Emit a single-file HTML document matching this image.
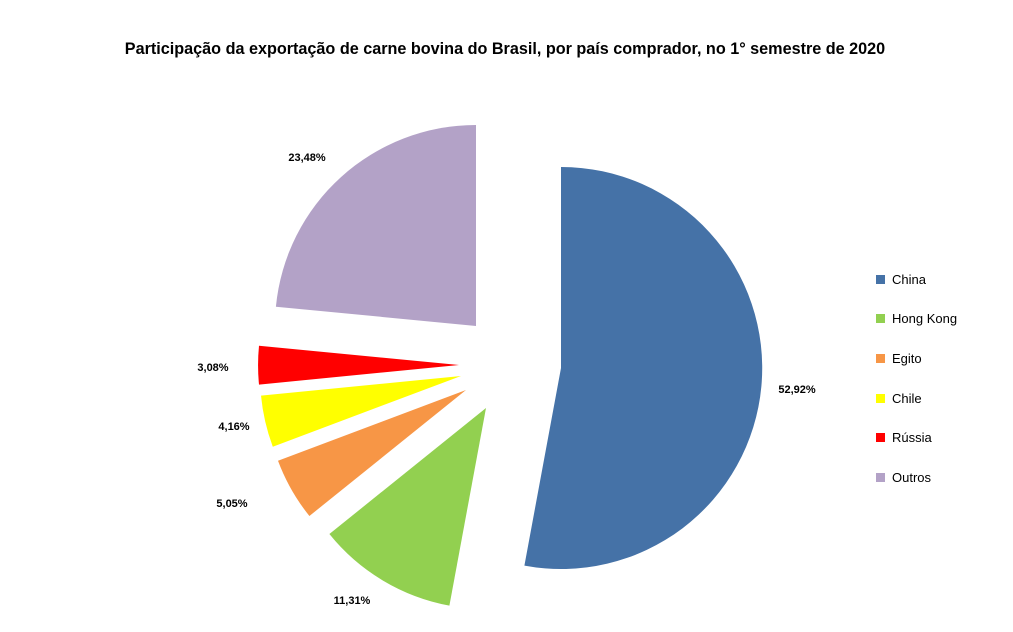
<!DOCTYPE html>
<html><head><meta charset="utf-8"><style>
html,body{margin:0;padding:0;background:#fff;}
svg{display:block;font-family:"Liberation Sans",Arial,sans-serif;}
</style></head><body>
<svg width="1013" height="632" viewBox="0 0 1013 632" xmlns="http://www.w3.org/2000/svg">
<rect width="1013" height="632" fill="#fff"/>
<text x="505" y="54" text-anchor="middle" font-size="16.2" font-weight="bold" fill="#000">Participação da exportação de carne bovina do Brasil, por país comprador, no 1° semestre de 2020</text>
<path d="M561,368 L561,167 A201,201 0 1,1 524.4,565.6 Z" fill="#4572A7"/>
<path d="M486,408 L449.4,605.6 A201,201 0 0,1 329.4,534 Z" fill="#92D050"/>
<path d="M466,390 L309.4,516 A201,201 0 0,1 278,460.7 Z" fill="#F79646"/>
<path d="M461,376 L272.8,446.7 A201,201 0 0,1 261,395.6 Z" fill="#FFFF00"/>
<path d="M459,365 L259,384.6 A201,201 0 0,1 259,345.7 Z" fill="#FF0000"/>
<path d="M476,326 L275.9,306.7 A201,201 0 0,1 476,125 Z" fill="#B3A2C7"/>
<g font-size="11" font-weight="bold" fill="#000" text-anchor="middle">
<text x="797" y="393">52,92%</text>
<text x="352" y="604">11,31%</text>
<text x="232" y="507">5,05%</text>
<text x="234" y="430">4,16%</text>
<text x="213" y="371">3,08%</text>
<text x="307" y="161">23,48%</text>
</g>
<g font-size="13" fill="#000">
<rect x="876" y="275" width="9" height="9" fill="#4572A7"/><text x="892" y="284">China</text>
<rect x="876" y="314" width="9" height="9" fill="#92D050"/><text x="892" y="323">Hong Kong</text>
<rect x="876" y="354" width="9" height="9" fill="#F79646"/><text x="892" y="363">Egito</text>
<rect x="876" y="394" width="9" height="9" fill="#FFFF00"/><text x="892" y="403">Chile</text>
<rect x="876" y="433" width="9" height="9" fill="#FF0000"/><text x="892" y="442">Rússia</text>
<rect x="876" y="473" width="9" height="9" fill="#B3A2C7"/><text x="892" y="482">Outros</text>
</g>
</svg>
</body></html>
